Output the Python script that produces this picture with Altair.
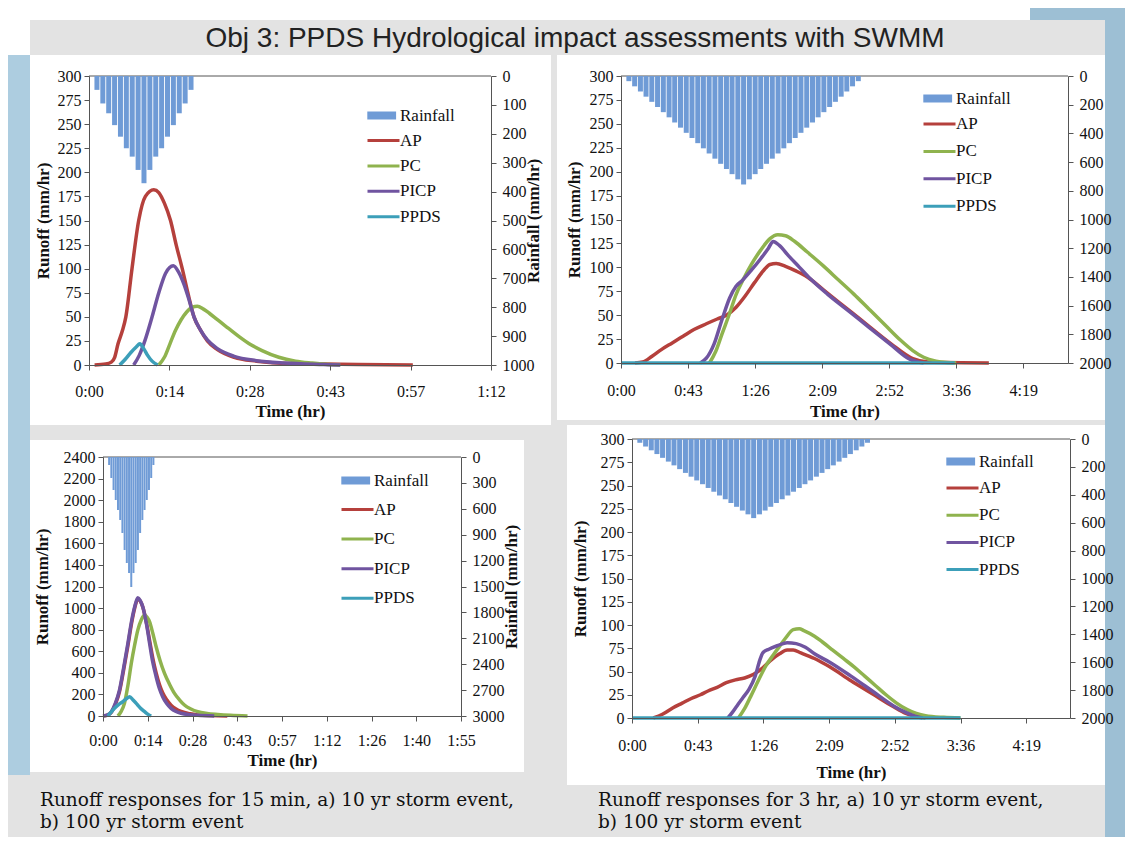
import altair as alt
import pandas as pd

SERIF = "Liberation Serif"
CAP_FONT = "DejaVu Serif"
TITLE_FONT = "Liberation Sans, Arial, sans-serif"
BG = "#e3e3e3"
WHITE = "#ffffff"
LBLUE = "#adcde0"
RBLUE = "#9dbfd4"
AXC = "#555555"
RAIN_COLOR = "#6f9bd6"
SERIES = ["AP", "PC", "PICP", "PPDS"]
COLORS = ["#b5403c", "#8fb34e", "#7054a0", "#3c9fb9"]

SLIDE_TITLE = "Obj 3: PPDS Hydrological impact assessments with SWMM"
CAPTION_15 = ["Runoff responses for 15 min, a) 10 yr storm event,", "b) 100 yr storm event"]
CAPTION_3H = ["Runoff responses for 3 hr, a) 10 yr storm event,", "b) 100 yr storm event"]

# ---------------- tick values ----------------
X_TICKS_A = [0, 14.4, 28.8, 43.2, 57.6, 72]
X_TICKS_C = [0, 14.4, 28.8, 43.2, 57.6, 72, 86.4, 100.8, 115.2]
X_TICKS_3H = [0, 43.2, 86.4, 129.6, 172.8, 216, 259.2]
Y_TICKS_300 = [0, 25, 50, 75, 100, 125, 150, 175, 200, 225, 250, 275, 300]
Y_TICKS_2400 = [0, 200, 400, 600, 800, 1000, 1200, 1400, 1600, 1800, 2000, 2200, 2400]
R_TICKS_1000 = [0, 100, 200, 300, 400, 500, 600, 700, 800, 900, 1000]
R_TICKS_2000 = [0, 200, 400, 600, 800, 1000, 1200, 1400, 1600, 1800, 2000]
R_TICKS_3000 = [0, 300, 600, 900, 1200, 1500, 1800, 2100, 2400, 2700, 3000]

# ---------------- panel A: 15 min, 10 yr ----------------
A_AP_T = [1, 3, 4, 4.6, 5.2, 6, 6.6, 7.7, 8.9, 10.1, 11.6, 12.5, 13.5, 14.6, 15.6, 16.7, 17.7, 18.8, 20, 21.2, 23, 26, 30, 36, 45, 58]
A_AP_V = [0, 1, 3, 8, 22, 36, 50, 100, 150, 175, 182, 179, 168, 150, 125, 100, 75, 50, 36, 25, 16, 8, 4, 1.5, 0.8, 0]
A_PC_T = [12.5, 13.5, 14.5, 15.5, 16.5, 17.5, 18.5, 19.4, 20.5, 21.5, 23, 25, 27, 29, 31, 34, 37, 40, 43, 45]
A_PC_V = [0, 8, 22, 36, 47, 55, 60, 61, 58, 54, 47, 38, 29, 21, 15, 8, 4, 2, 0.5, 0]
A_PICP_T = [8, 9, 10, 11.3, 12.5, 13.7, 15.1, 16, 17, 17.9, 18.8, 20, 21.2, 23, 26, 30, 35, 42, 45]
A_PICP_V = [0, 10, 25, 50, 75, 95, 103, 97, 84, 68, 50, 36, 26, 17, 9, 4.5, 2, 0.5, 0]
A_PPDS_T = [5.5, 6.5, 7.5, 8.5, 9.1, 9.8, 10.5, 11.3, 12.3]
A_PPDS_V = [0, 6, 13, 19, 22, 17, 10, 4, 0]
A_RAIN_T = [0.54, 1.62, 2.7, 3.78, 4.86, 5.94, 7.02, 8.1, 9.18, 10.26, 11.34, 12.42, 13.5, 14.58, 15.66, 16.74, 17.82]
A_RAIN_V = [48, 95, 129, 170, 210, 250, 279, 325, 371, 325, 279, 250, 210, 170, 129, 95, 48]

# ---------------- panel B: 3 hr, 10 yr ----------------
B_AP_T = [9, 14, 20, 26, 33, 40, 47, 55, 62, 68, 74, 80, 86, 92, 96, 100, 106, 113, 120, 133, 147, 160, 174, 188, 198, 237]
B_AP_V = [0, 1, 7, 14, 21, 28, 35, 41, 46, 50, 58, 70, 84, 97, 103, 104, 101, 96, 90, 73, 55, 38, 20, 4.5, 1, 0]
B_PC_T = [57, 61, 65, 70, 74, 79, 84, 90, 96, 101, 106, 112, 120, 130, 140, 150, 160, 170, 180, 188, 195, 203, 210, 216]
B_PC_V = [0, 12, 30, 52, 71, 88, 103, 118, 130, 134, 133, 127, 116, 102, 87, 72, 56, 40, 24, 13, 6, 2, 0.5, 0]
B_PICP_T = [51, 55, 60, 65, 70, 74, 78, 84, 90, 95, 98, 102, 108, 115, 122, 133, 147, 160, 174, 186, 195]
B_PICP_V = [0, 5, 20, 45, 68, 80, 86, 97, 109, 120, 127, 123, 112, 100, 88, 72, 54, 37, 19, 4, 0]
B_PPDS_T = [0, 215]
B_PPDS_V = [0, 0]
B_RAIN_T = [1.9, 5.7, 9.5, 13.2, 17.0, 20.8, 24.6, 28.4, 32.1, 35.9, 39.7, 43.5, 47.3, 51.0, 54.8,
            58.6, 62.4, 66.2, 69.9, 73.7, 77.5, 81.3, 85.1, 88.8, 92.6, 96.4, 100.2, 104.0, 107.7,
            111.5, 115.3, 119.1, 122.9, 126.6, 130.4, 134.2, 138.0, 141.8, 145.5, 149.3, 153.1]
B_RAIN_V = [36, 72, 108, 144, 180, 216, 252, 288, 324, 360, 396, 432, 468, 504, 540, 576, 612, 648, 684, 720,
            756, 720, 684, 648, 612, 576, 540, 504, 468, 432, 396, 360, 324, 288, 252, 216, 180, 144, 108, 72, 36]

# ---------------- panel C: 15 min, 100 yr ----------------
C_AP_T = [0, 1.5, 2.7, 4, 5.3, 6.6, 8, 9.2, 10.2, 11.2, 12, 12.8, 14, 15, 16, 17.1, 18.2, 19.2, 20.5, 21.9, 23.5, 25.1, 28, 30.5, 35, 40]
C_AP_V = [0, 8, 35, 110, 225, 420, 650, 860, 1000, 1085, 1065, 1010, 860, 700, 540, 400, 290, 215, 150, 100, 65, 42, 20, 10, 4, 0]
C_PC_T = [4.8, 5.8, 6.9, 8, 9.1, 10.2, 11.2, 12.3, 13.4, 14.2, 15, 16, 17.1, 18.4, 19.8, 21.4, 23, 24.6, 26.2, 28.3, 30.5, 33.5, 36.9, 41, 46.5]
C_PC_V = [0, 40, 117, 280, 487, 660, 796, 890, 935, 915, 873, 770, 642, 510, 395, 295, 210, 150, 102, 65, 40, 24, 15, 7, 0]
C_PICP_T = [0, 1.5, 2.7, 4, 5.3, 6.6, 8, 9.2, 10.2, 11.2, 12, 12.8, 14, 15, 16, 17.1, 18.2, 19.2, 20.5, 21.9, 23.5, 25.1, 28, 30.5, 35.8]
C_PICP_V = [0, 10, 40, 120, 240, 440, 672, 880, 1012, 1095, 1070, 1012, 850, 672, 500, 364, 250, 179, 115, 71, 42, 25, 12, 6, 0]
C_PPDS_T = [1.6, 2.6, 3.7, 5, 6.4, 7.5, 8.6, 9.6, 10.7, 12, 13.4, 14.5, 15.5]
C_PPDS_V = [0, 35, 71, 105, 133, 160, 179, 150, 117, 75, 40, 15, 0]
C_RAIN_T = [0.37, 1.1, 1.84, 2.57, 3.3, 4.04, 4.77, 5.5, 6.23, 6.97, 7.7, 8.43, 9.17, 9.9, 10.63,
            11.37, 12.1, 12.83, 13.56, 14.3, 15.03]
C_RAIN_V = [93, 243, 382, 498, 614, 730, 880, 1077, 1228, 1344, 1506, 1344, 1228, 1077, 880, 730, 614, 498, 382, 243, 93]

# ---------------- panel D: 3 hr, 100 yr ----------------
D_AP_T = [14, 20, 27, 33, 39, 45, 50, 56, 62, 68, 74, 80, 86, 92, 97, 102, 106, 111, 120, 130, 144, 158, 172, 180, 186, 193]
D_AP_V = [0, 4, 11, 16, 21, 25, 29, 33, 38, 41, 43, 47, 54, 63, 69, 73, 73, 70, 64, 55, 40, 26, 12, 5, 2, 0]
D_PC_T = [70, 74, 78, 83, 88, 93, 97, 101, 106, 110, 113, 120, 125, 132, 139, 146, 153, 160, 167, 174, 181, 187, 193, 205, 216]
D_PC_V = [0, 10, 23, 40, 56, 68, 77, 86, 95, 96, 94, 88, 82, 73, 64, 55, 45, 35, 25, 16, 9, 5, 2.5, 0.7, 0]
D_PICP_T = [63, 66, 69, 73, 77, 81, 84, 86, 90, 96, 102, 108, 114, 120, 130, 144, 158, 172, 180, 186, 191]
D_PICP_V = [0, 6, 13, 22, 31, 45, 62, 70, 74, 78, 81, 80, 76, 69, 60, 45, 29, 13, 6, 2, 0]
D_PPDS_T = [0, 216]
D_PPDS_V = [0, 0]
D_RAIN_T = [1.9, 5.8, 9.6, 13.4, 17.2, 21.1, 24.9, 28.7, 32.6, 36.4, 40.2, 44.1, 47.9, 51.7, 55.5,
            59.4, 63.2, 67.0, 70.9, 74.7, 78.5, 82.4, 86.2, 90.0, 93.8, 97.7, 101.5, 105.3, 109.2,
            113.0, 116.8, 120.7, 124.5, 128.3, 132.1, 136.0, 139.8, 143.6, 147.5, 151.3, 155.1]
D_RAIN_V = [27, 54, 81, 108, 135, 162, 189, 216, 243, 270, 297, 324, 351, 378, 405, 432, 459, 486, 513, 540,
            567, 540, 513, 486, 459, 432, 405, 378, 351, 324, 297, 270, 243, 216, 189, 162, 135, 108, 81, 54, 27]

TIME_EXPR = ("floor(datum.value/60) + ':' + (floor(datum.value % 60) < 10 ? '0' : '') "
             "+ floor(datum.value % 60)")

W, H = 1117, 829
ONE = pd.DataFrame({"k": [0]})


def rect(l, r, t, b, color):
    return alt.Chart(ONE).mark_rect(color=color).encode(
        x=alt.value(l), x2=alt.value(r), y=alt.value(t), y2=alt.value(b))


def panel_layers(p):
    x0, x1, yt, yb = p["box"]
    rows = []
    for name, tl, vl in zip(SERIES, p["t"], p["v"]):
        for t, v in zip(tl, vl):
            rows.append({"series": name, "t": t, "v": v})
    line_df = pd.DataFrame(rows)
    rain_df = pd.DataFrame({"t": p["rain_t"], "rain": p["rain_v"], "series": "Rainfall"})
    xscale = alt.Scale(domain=[0, p["xmax"]], range=[x0, x1], nice=False, zero=False)

    raxis = dict(orient="right", offset=x1 - W, values=p["rticks"], format="d", labelPadding=6, zindex=1)
    if p["rtx"] is not None:
        raxis.update(title="Rainfall (mm/hr)", titleX=p["rtx"], titleY=(yt + yb) / 2, titleAngle=270,
                     titleAlign="center", titleBaseline="middle")
    else:
        raxis.update(title=None)

    top_rule = alt.Chart(ONE).mark_rule(color=AXC, strokeWidth=1).encode(
        x=alt.value(x0), x2=alt.value(x1), y=alt.value(yt))

    bars = alt.Chart(rain_df).mark_bar(width=p["bw"]).encode(
        x=alt.X("t:Q", scale=xscale, axis=None),
        y=alt.Y("rain:Q", scale=alt.Scale(domain=[0, p["rmax"]], range=[yt, yb], nice=False),
                axis=alt.Axis(**raxis)),
        fill=alt.Fill("series:N", scale=alt.Scale(domain=["Rainfall"], range=[RAIN_COLOR]),
                      legend=alt.Legend(orient="none", legendX=p["lx"], legendY=p["lfy"], title=None,
                                        symbolType="M-0.9,-0.5H2.7V0.5H-0.9Z", symbolSize=256,
                                        symbolStrokeWidth=0, labelOffset=17)),
    )
    lines = alt.Chart(line_df).mark_line(strokeWidth=3.5, interpolate="monotone").encode(
        x=alt.X("t:Q", scale=xscale,
                axis=alt.Axis(orient="bottom", offset=yb - H, values=p["xticks"], labelExpr=TIME_EXPR,
                              labelFlush=False, title="Time (hr)", titleX=(x0 + x1) / 2, titleY=p["xty"],
                              titleBaseline="middle", labelPadding=p["xlp"], zindex=1)),
        y=alt.Y("v:Q", scale=alt.Scale(domain=[0, p["ymax"]], range=[yb, yt], nice=False),
                axis=alt.Axis(orient="left", offset=-x0, values=p["yticks"], format="d",
                              title="Runoff (mm/hr)", titleX=p["ltx"], titleY=(yt + yb) / 2,
                              titleAngle=270, titleAlign="center", titleBaseline="middle",
                              labelPadding=3, zindex=1)),
        stroke=alt.Stroke("series:N", scale=alt.Scale(domain=SERIES, range=COLORS),
                          legend=alt.Legend(orient="none", legendX=p["lx"], legendY=p["lsy"], title=None,
                                            symbolType="M-1,0H3", symbolSize=256, symbolStrokeWidth=3,
                                            labelOffset=15, rowPadding=p["rp"])),
    )
    return [top_rule, bars, lines]


PA = dict(box=(81, 483, 68, 357), xmax=72, xticks=X_TICKS_A, ymax=300, yticks=Y_TICKS_300, rmax=1000,
          rticks=R_TICKS_1000, t=[A_AP_T, A_PC_T, A_PICP_T, A_PPDS_T], v=[A_AP_V, A_PC_V, A_PICP_V, A_PPDS_V],
          rain_t=A_RAIN_T, rain_v=A_RAIN_V, bw=5, xty=46, xlp=13, ltx=-46, rtx=42,
          lx=358, lfy=99, lsy=123, rp=7.4)
PB = dict(box=(613, 1060, 68, 355), xmax=288, xticks=X_TICKS_3H, ymax=300, yticks=Y_TICKS_300, rmax=2000,
          rticks=R_TICKS_2000, t=[B_AP_T, B_PC_T, B_PICP_T, B_PPDS_T], v=[B_AP_V, B_PC_V, B_PICP_V, B_PPDS_V],
          rain_t=B_RAIN_T, rain_v=B_RAIN_V, bw=5, xty=48, xlp=14, ltx=-47, rtx=None,
          lx=914, lfy=82, lsy=106.5, rp=9.4)
PC_ = dict(box=(95, 453, 449, 708), xmax=115.2, xticks=X_TICKS_C, ymax=2400, yticks=Y_TICKS_2400, rmax=3000,
           rticks=R_TICKS_3000, t=[C_AP_T, C_PC_T, C_PICP_T, C_PPDS_T], v=[C_AP_V, C_PC_V, C_PICP_V, C_PPDS_V],
           rain_t=C_RAIN_T, rain_v=C_RAIN_V, bw=2, xty=44, xlp=11, ltx=-61, rtx=50,
           lx=332, lfy=464, lsy=492, rp=11.6)
PD = dict(box=(624, 1062, 431, 710), xmax=288, xticks=X_TICKS_3H, ymax=300, yticks=Y_TICKS_300, rmax=2000,
          rticks=R_TICKS_2000, t=[D_AP_T, D_PC_T, D_PICP_T, D_PPDS_T], v=[D_AP_V, D_PC_V, D_PICP_V, D_PPDS_V],
          rain_t=D_RAIN_T, rain_v=D_RAIN_V, bw=5, xty=54, xlp=14, ltx=-52, rtx=None,
          lx=937, lfy=445, lsy=470.5, rp=9.2)

# slide decoration (background bands, white chart boxes, side strips)
deco = [
    rect(0, W, 0, 12, WHITE),
    rect(0, 22, 0, 47, WHITE),
    rect(1022, W, 0, 12, RBLUE),
    rect(0, 22, 47, 767, LBLUE),
    rect(1097, W, 0, H, RBLUE),
    rect(22, 543, 47, 417, WHITE),
    rect(549, 1097, 47, 412, WHITE),
    rect(22, 516, 432, 764, WHITE),
    rect(559, 1097, 417, 777, WHITE),
]

texts = [
    alt.Chart(ONE).mark_text(align="center", baseline="middle", font=TITLE_FONT, fontSize=28,
                             color="#222").encode(x=alt.value(567), y=alt.value(31),
                                                  text=alt.value(SLIDE_TITLE)),
    alt.Chart(ONE).mark_text(align="left", baseline="alphabetic", font=CAP_FONT, fontSize=18.5,
                             lineHeight=22, color="#111").encode(
        x=alt.value(32), y=alt.value(798), text=alt.value(CAPTION_15)),
    alt.Chart(ONE).mark_text(align="left", baseline="alphabetic", font=CAP_FONT, fontSize=18.5,
                             lineHeight=22, color="#111").encode(
        x=alt.value(590), y=alt.value(798), text=alt.value(CAPTION_3H)),
]

layers = list(deco)
for p in (PA, PB, PC_, PD):
    layers += panel_layers(p)
layers += texts

chart = alt.layer(*layers).resolve_scale(
    x="independent", y="independent", fill="independent", stroke="independent"
).properties(
    width=W, height=H, background=BG, padding=0,
    autosize=alt.AutoSizeParams(type="none"),
).configure_view(stroke=None).configure_axis(
    domainColor=AXC, tickColor=AXC, tickSize=5, labelFont=SERIF, labelFontSize=16,
    labelColor="#111", titleFont=SERIF, titleFontSize=17, titleFontWeight="bold",
    titleColor="#111", grid=False
).configure_legend(labelFont=SERIF, labelFontSize=17, labelColor="#111")

chart.save("out.html", embed_options={"renderer": "svg", "actions": False})
